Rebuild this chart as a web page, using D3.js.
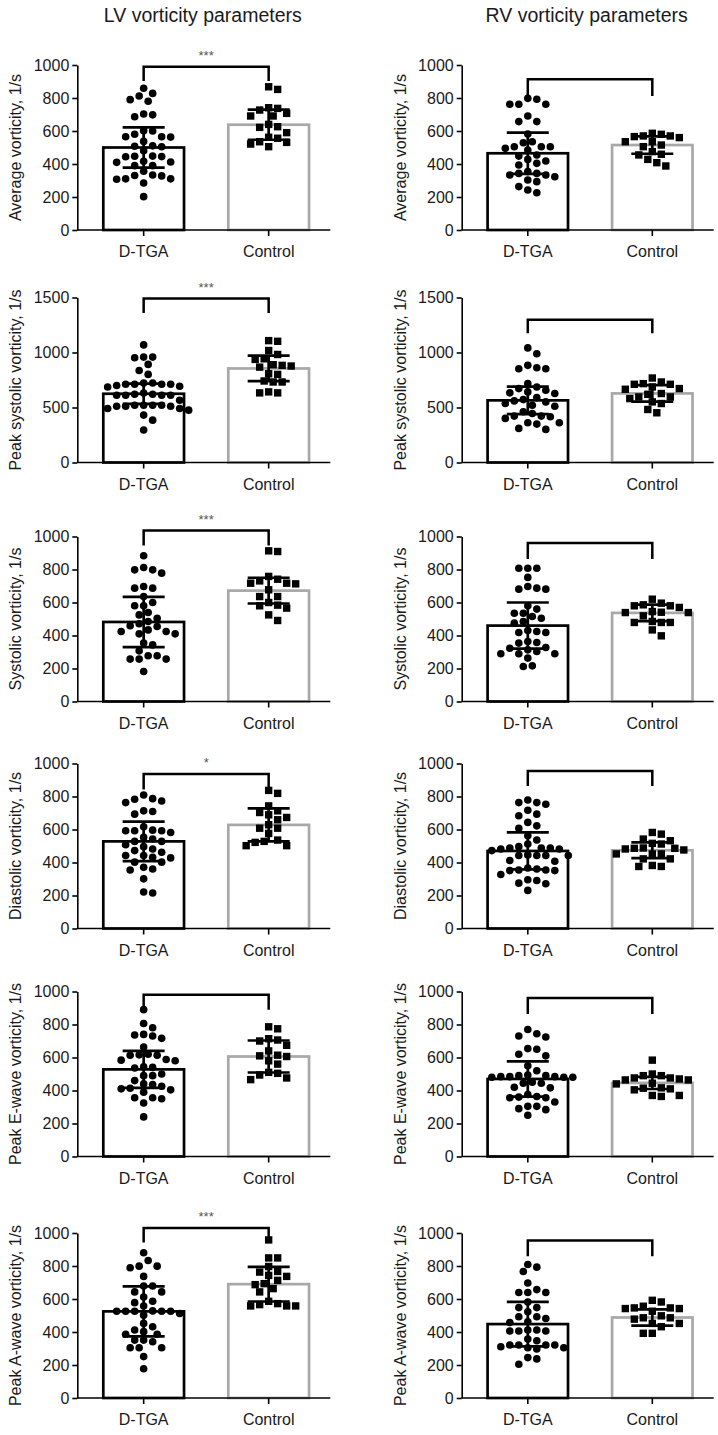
<!DOCTYPE html>
<html><head><meta charset="utf-8">
<script src="https://cdn.jsdelivr.net/npm/d3@7/dist/d3.min.js"></script>
<style>
html,body{margin:0;padding:0;background:#fff;}
svg text{font-family:"Liberation Sans",Arial,Helvetica,sans-serif;fill:#1a1a1a;}
</style></head>
<body>
<svg id="chart" width="718" height="1435"></svg>
<script>
// ---------------- DATA ----------------
const categories = ["D-TGA", "Control"];
const columnTitles = ["LV vorticity parameters", "RV vorticity parameters"];
const yLabels = ["Average vorticity, 1/s", "Peak systolic vorticity, 1/s", "Systolic vorticity, 1/s",
  "Diastolic vorticity, 1/s", "Peak E-wave vorticity, 1/s", "Peak A-wave vorticity, 1/s"];
const yMax = [1000, 1500, 1000, 1000, 1000, 1000];
const ticks1000 = [0, 200, 400, 600, 800, 1000];
const ticks1500 = [0, 500, 1000, 1500];

// LV individual values
const lvAvgDTGA = [859, 828, 812, 790, 780, 703, 698, 686, 602, 600, 580, 565, 565, 563, 537, 510, 508, 505, 480, 447, 448, 445, 444, 416, 412, 410, 390, 390, 356, 333, 330, 328, 310, 308, 310, 285, 202];
const lvAvgCtrl = [868, 852, 741, 737, 727, 707, 691, 691, 640, 626, 622, 590, 562, 556, 535, 531, 521, 505];
const lvPeakSysDTGA = [1069, 958, 952, 958, 892, 837, 801, 723, 723, 711, 687, 693, 700, 711, 711, 711, 611, 611, 620, 632, 620, 611, 611, 566, 521, 521, 512, 491, 491, 521, 512, 512, 521, 476, 431, 385, 295];
const lvPeakSysCtrl = [1108, 1102, 1018, 982, 943, 937, 877, 867, 883, 889, 801, 807, 741, 732, 732, 642, 633, 633];
const lvSysDTGA = [883, 812, 798, 798, 778, 697, 687, 687, 636, 600, 580, 580, 539, 525, 505, 485, 471, 459, 455, 434, 424, 424, 410, 410, 354, 343, 307, 277, 277, 257, 257, 257, 182];
const lvSysCtrl = [913, 909, 758, 741, 731, 717, 717, 713, 677, 636, 636, 600, 584, 580, 566, 525, 491];
const lvDiaDTGA = [809, 787, 783, 773, 763, 713, 709, 693, 616, 596, 592, 592, 592, 582, 552, 542, 528, 528, 508, 496, 482, 472, 462, 442, 442, 432, 428, 402, 402, 371, 361, 355, 301, 221, 215];
const lvDiaCtrl = [837, 819, 743, 713, 703, 689, 673, 659, 629, 608, 608, 576, 536, 528, 522, 502, 502];
const lvEDTGA = [890, 806, 780, 740, 730, 736, 716, 664, 616, 620, 614, 614, 580, 584, 588, 544, 540, 536, 500, 490, 490, 460, 440, 436, 426, 414, 410, 404, 390, 356, 350, 356, 324, 240];
const lvECtrl = [786, 774, 714, 706, 700, 674, 640, 606, 610, 614, 580, 560, 510, 494, 504, 476, 466];
const lvADTGA = [880, 833, 799, 799, 789, 737, 679, 679, 643, 643, 612, 578, 586, 558, 528, 526, 526, 526, 526, 526, 502, 512, 452, 432, 412, 402, 386, 386, 351, 351, 341, 305, 305, 305, 251, 177];
const lvACtrl = [958, 849, 849, 797, 763, 767, 743, 737, 713, 693, 687, 663, 643, 586, 572, 566, 558, 558, 558];

// RV individual values
const rvAvgDTGA = [798, 792, 762, 762, 762, 691, 657, 657, 582, 535, 529, 505, 505, 505, 495, 485, 455, 448, 428, 418, 404, 394, 343, 343, 354, 333, 333, 323, 303, 293, 263, 242, 226];
const rvAvgCtrl = [586, 580, 570, 570, 566, 560, 535, 535, 515, 505, 475, 459, 455, 428, 408, 388];
const rvPeakSysDTGA = [1042, 988, 883, 852, 852, 861, 717, 687, 672, 657, 642, 633, 627, 590, 572, 560, 551, 536, 521, 512, 461, 446, 422, 422, 416, 401, 361, 361, 349, 301, 310];
const rvPeakSysCtrl = [768, 732, 717, 711, 711, 687, 672, 666, 627, 620, 596, 596, 581, 551, 536, 482, 452];
const rvSysDTGA = [808, 808, 808, 752, 697, 687, 681, 681, 580, 560, 535, 535, 515, 505, 485, 475, 430, 424, 418, 418, 364, 358, 354, 327, 323, 313, 303, 289, 289, 289, 263, 216, 212];
const rvSysCtrl = [620, 596, 586, 580, 580, 570, 545, 541, 539, 539, 519, 485, 479, 479, 479, 434, 398];
const rvDiaDTGA = [779, 763, 763, 753, 717, 693, 683, 643, 622, 608, 562, 536, 512, 496, 488, 488, 482, 482, 488, 472, 446, 442, 442, 442, 442, 412, 408, 361, 355, 355, 351, 351, 367, 327, 295, 291, 275, 271, 231];
const rvDiaCtrl = [582, 572, 542, 532, 516, 512, 488, 486, 486, 482, 476, 452, 452, 452, 422, 422, 382, 376, 376];
const rvEDTGA = [770, 744, 730, 724, 654, 650, 620, 610, 550, 520, 494, 490, 490, 484, 480, 484, 484, 480, 480, 450, 444, 444, 420, 416, 376, 364, 356, 356, 360, 330, 304, 304, 290, 284, 250];
const rvECtrl = [584, 500, 490, 490, 476, 476, 470, 464, 464, 444, 440, 416, 414, 410, 404, 370, 364, 370];
const rvADTGA = [809, 793, 767, 697, 657, 639, 639, 639, 582, 548, 548, 522, 492, 482, 492, 458, 462, 412, 406, 412, 406, 406, 357, 347, 321, 311, 305, 305, 321, 321, 321, 297, 245, 237, 205];
const rvACtrl = [592, 582, 556, 546, 546, 542, 542, 526, 498, 486, 486, 478, 452, 452, 432, 392, 392];

// Means and SD (bars and error bars)
const lvMeanDTGA = [500, 625, 482, 528, 528, 525];
const lvSdDTGA   = [122, 92, 152, 120, 112, 151];
const lvMeanCtrl = [638, 855, 672, 628, 606, 690];
const lvSdCtrl   = [91, 116, 78, 100, 97, 105];
const rvMeanDTGA = [465, 565, 460, 470, 470, 448];
const rvSdDTGA   = [125, 125, 140, 112, 107, 135];
const rvMeanCtrl = [515, 628, 537, 474, 446, 488];
const rvSdCtrl   = [53, 75, 50, 48, 37, 49];

// Significance brackets (data units) and labels
const lvBracketTop = [990, 1490, 1036, 937, 980, 1030];
const lvBracketLeg = [903, 1358, 945, 843, 890, 943];
const lvStars = ["***", "***", "***", "*", "", "***"];
const rvBracketTop = [913, 1297, 960, 954, 960, 954];
const rvBracketLeg = [812, 1176, 864, 863, 864, 859];
const rvStars = ["", "", "", "", "", ""];

// ---------------- LAYOUT ----------------
const svg = d3.select("#chart");
const colX = [77.3, 461.7];
const plotW = [253, 252];
const rowBottom = [230, 462.5, 701.5, 928.5, 1156.5, 1398];
const plotH = 165;
const ctrlGray = "#a8a8a8";
const lw = 2.7;

const lvPoints = [[lvAvgDTGA, lvAvgCtrl], [lvPeakSysDTGA, lvPeakSysCtrl], [lvSysDTGA, lvSysCtrl],
  [lvDiaDTGA, lvDiaCtrl], [lvEDTGA, lvECtrl], [lvADTGA, lvACtrl]];
const rvPoints = [[rvAvgDTGA, rvAvgCtrl], [rvPeakSysDTGA, rvPeakSysCtrl], [rvSysDTGA, rvSysCtrl],
  [rvDiaDTGA, rvDiaCtrl], [rvEDTGA, rvECtrl], [rvADTGA, rvACtrl]];

// column titles
columnTitles.forEach((t, c) => {
  svg.append("text").attr("x", colX[c] + plotW[c] / 2 - 1).attr("y", 22)
    .attr("text-anchor", "middle").attr("font-size", 19.5).text(t);
});

// beeswarm offsets (pixel) computed from value positions, on a half-step grid
function swarm(values, yScale, dist, step) {
  const order = values.map((v, i) => ({ v, i })).sort((a, b) => b.v - a.v);
  const placed = [];
  const out = new Array(values.length);
  order.forEach(o => {
    const py = yScale(o.v);
    let dx = 0;
    for (let k = 0; k < 200; k++) {
      const cand = k === 0 ? 0 : (k % 2 === 1 ? 1 : -1) * Math.ceil(k / 2) * step;
      const ok = placed.every(p => (p.x - cand) ** 2 + (p.y - py) ** 2 >= dist * dist);
      if (ok) { dx = cand; break; }
    }
    placed.push({ x: dx, y: py });
    out[o.i] = dx;
  });
  return out;
}

function drawPanel(c, r) {
  const pts = c === 0 ? lvPoints[r] : rvPoints[r];
  const means = c === 0 ? [lvMeanDTGA[r], lvMeanCtrl[r]] : [rvMeanDTGA[r], rvMeanCtrl[r]];
  const sds = c === 0 ? [lvSdDTGA[r], lvSdCtrl[r]] : [rvSdDTGA[r], rvSdCtrl[r]];
  const bTop = c === 0 ? lvBracketTop[r] : rvBracketTop[r];
  const bLeg = c === 0 ? lvBracketLeg[r] : rvBracketLeg[r];
  const star = c === 0 ? lvStars[r] : rvStars[r];
  const w = plotW[c];

  const g = svg.append("g").attr("transform", `translate(${colX[c]},${rowBottom[r] - plotH})`);
  const y = d3.scaleLinear().domain([0, yMax[r]]).range([plotH, 0]);
  const x = d3.scaleBand().domain(categories).range([0, w])
    .paddingInner(0.354).paddingOuter(0.189).align(0.55);
  const bw = x.bandwidth();
  const cx = d => x(d) + bw / 2;

  // bars
  g.selectAll("rect.bar").data(categories).join("rect").attr("class", "bar")
    .attr("x", d => x(d)).attr("width", bw)
    .attr("y", (d, i) => y(means[i])).attr("height", (d, i) => y(0) - y(means[i]))
    .attr("fill", "#fff").attr("stroke", (d, i) => i === 0 ? "#000" : ctrlGray)
    .attr("stroke-width", lw);

  // dots
  const offD = swarm(pts[0], y, 8.1, 4.5);
  g.selectAll("circle.pt").data(pts[0]).join("circle").attr("class", "pt")
    .attr("cx", (d, i) => cx(categories[0]) + offD[i]).attr("cy", d => y(d))
    .attr("r", 3.8).attr("fill", "#000");
  const offC = swarm(pts[1], y, 8.4, 4.5);
  const s = 7.4;
  g.selectAll("rect.sq").data(pts[1]).join("rect").attr("class", "sq")
    .attr("x", (d, i) => cx(categories[1]) + offC[i] - s / 2).attr("y", d => y(d) - s / 2)
    .attr("width", s).attr("height", s).attr("fill", "#000");

  // error bars
  categories.forEach((cat, i) => {
    const xc = cx(cat), cap = 21;
    const eg = g.append("g").attr("stroke", "#000").attr("stroke-width", lw).attr("fill", "none");
    eg.append("line").attr("x1", xc).attr("x2", xc).attr("y1", y(means[i] - sds[i])).attr("y2", y(means[i] + sds[i]));
    eg.append("line").attr("x1", xc - cap).attr("x2", xc + cap).attr("y1", y(means[i] + sds[i])).attr("y2", y(means[i] + sds[i]));
    eg.append("line").attr("x1", xc - cap).attr("x2", xc + cap).attr("y1", y(means[i] - sds[i])).attr("y2", y(means[i] - sds[i]));
  });

  // bracket
  const x1 = cx(categories[0]), x2 = cx(categories[1]);
  g.append("path")
    .attr("d", `M${x1},${y(bLeg)}V${y(bTop)}H${x2}V${y(bLeg)}`)
    .attr("fill", "none").attr("stroke", "#000").attr("stroke-width", 2.5);
  if (star) {
    g.append("text").attr("x", (x1 + x2) / 2).attr("y", y(bTop) - 7)
      .attr("text-anchor", "middle").attr("font-size", 13).style("fill", "#555").text(star);
  }

  // axes
  const ya = g.append("g").call(d3.axisLeft(y).tickValues(yMax[r] === 1500 ? ticks1500 : ticks1000)
    .tickFormat(d3.format("d")).tickSize(5).tickSizeOuter(0).tickPadding(3));
  ya.select(".domain").attr("stroke-width", 1.6);
  ya.selectAll(".tick line").attr("stroke-width", 1.6);
  ya.selectAll("text").attr("font-size", 16).attr("font-family", null);

  const xa = g.append("g").attr("transform", `translate(0,${plotH})`)
    .call(d3.axisBottom(x).tickSize(6).tickSizeOuter(0).tickPadding(10));
  xa.select(".domain").attr("stroke-width", 1.6).attr("d", `M0,0H${w}`);
  xa.selectAll(".tick line").attr("stroke-width", 1.6);
  xa.selectAll("text").attr("font-size", 16).attr("font-family", null);

  // y label
  g.append("text").attr("transform", `translate(-56,${plotH / 2}) rotate(-90)`)
    .attr("text-anchor", "middle").attr("font-size", 16).text(yLabels[r]);
}

for (let r = 0; r < 6; r++) for (let c = 0; c < 2; c++) drawPanel(c, r);
</script>
</body></html>
